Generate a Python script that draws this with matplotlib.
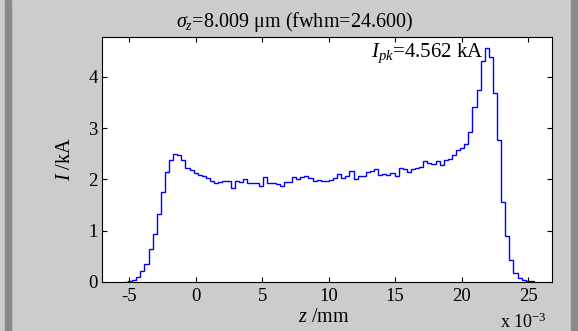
import numpy as np
import matplotlib
matplotlib.use("Agg")
import matplotlib.pyplot as plt
from matplotlib.patches import Rectangle

# current profile, 100 bins (z in units of 1e-3 mm)
z_start = -5.38
z_end = 25.42
current_kA = [
    0.00, 0.01, 0.03, 0.10, 0.21, 0.35, 0.64, 0.94, 1.32, 1.76,
    2.15, 2.38, 2.49, 2.47, 2.39, 2.23, 2.19, 2.12, 2.08, 2.06,
    2.03, 1.98, 1.94, 1.95, 1.98, 1.97, 1.84, 1.97, 1.95, 2.00,
    1.93, 1.93, 1.94, 1.88, 2.04, 1.94, 1.94, 1.92, 1.88, 1.95,
    1.96, 2.04, 2.00, 2.04, 2.06, 2.03, 1.98, 1.99, 1.97, 1.97,
    1.99, 2.03, 2.10, 2.03, 2.06, 2.16, 2.00, 2.06, 2.06, 2.15,
    2.17, 2.20, 2.08, 2.11, 2.08, 2.13, 2.06, 2.22, 2.21, 2.14,
    2.20, 2.23, 2.25, 2.36, 2.32, 2.30, 2.37, 2.29, 2.38, 2.40,
    2.48, 2.57, 2.62, 2.69, 2.92, 3.41, 3.74, 4.31, 4.56, 4.39,
    3.68, 2.78, 1.56, 0.89, 0.43, 0.18, 0.07, 0.03, 0.02, 0.01,
]
xticks = [-5, 0, 5, 10, 15, 20, 25]
yticks = [0, 1, 2, 3, 4]

plt.rcParams['font.family'] = ['Liberation Serif', 'DejaVu Serif']
plt.rcParams['mathtext.fontset'] = 'custom'
plt.rcParams['mathtext.rm'] = 'Liberation Serif'
plt.rcParams['mathtext.it'] = 'Liberation Serif:italic'
plt.rcParams['axes.unicode_minus'] = False

W, H = 578, 331
fig = plt.figure(figsize=(W / 100, H / 100), dpi=100, facecolor='#cccccc')

# window frame bits
fig.patches.append(Rectangle((5 / W, 0), 6 / W, 1, transform=fig.transFigure,
                             color='#8a8a8a', zorder=0))
fig.patches.append(Rectangle((571 / W, 0), 7 / W, 1, transform=fig.transFigure,
                             color='#8a8a8a', zorder=0))

ax = fig.add_axes([102 / W, 1 - 282 / H, 450 / W, 245 / H])
ax.set_facecolor('white')

edges = np.linspace(z_start, z_end, len(current_kA) + 1)
ax.stairs(current_kA, edges, color='#0000ff', lw=1.0, baseline=0)

ax.set_xlim(-7.03, 26.78)
ax.set_ylim(0, 4.78)
ax.set_xticks(xticks)
ax.set_yticks(yticks)
ax.tick_params(direction='in', length=3.5, width=0.8, top=True, right=True,
               labelsize=13.5, pad=4)
ax.tick_params(axis='y', pad=3)
for s in ax.spines.values():
    s.set_linewidth(0.8)

fig.text(295 / W, 1 - 27 / H, r'$\sigma_z$=8.009 μm (fwhm=24.600)',
         ha='center', va='baseline', fontsize=14.5)
fig.text(484 / W, 1 - 57 / H, r'$I_{pk}$=4.562 kA',
         ha='right', va='baseline', fontsize=15)
fig.text(65 / W, 1 - 159 / H, r'$I$ /kA', rotation=90,
         ha='center', va='center', fontsize=14.5)
fig.text(324 / W, 1 - 322 / H, r'$z$ /mm', ha='center', va='baseline',
         fontsize=14.5)
fig.text(500 / W, 1 - 328 / H, r'x 10$^{-3}$', ha='left', va='baseline',
         fontsize=13)

fig.savefig('out.png', dpi=100, facecolor=fig.get_facecolor())
